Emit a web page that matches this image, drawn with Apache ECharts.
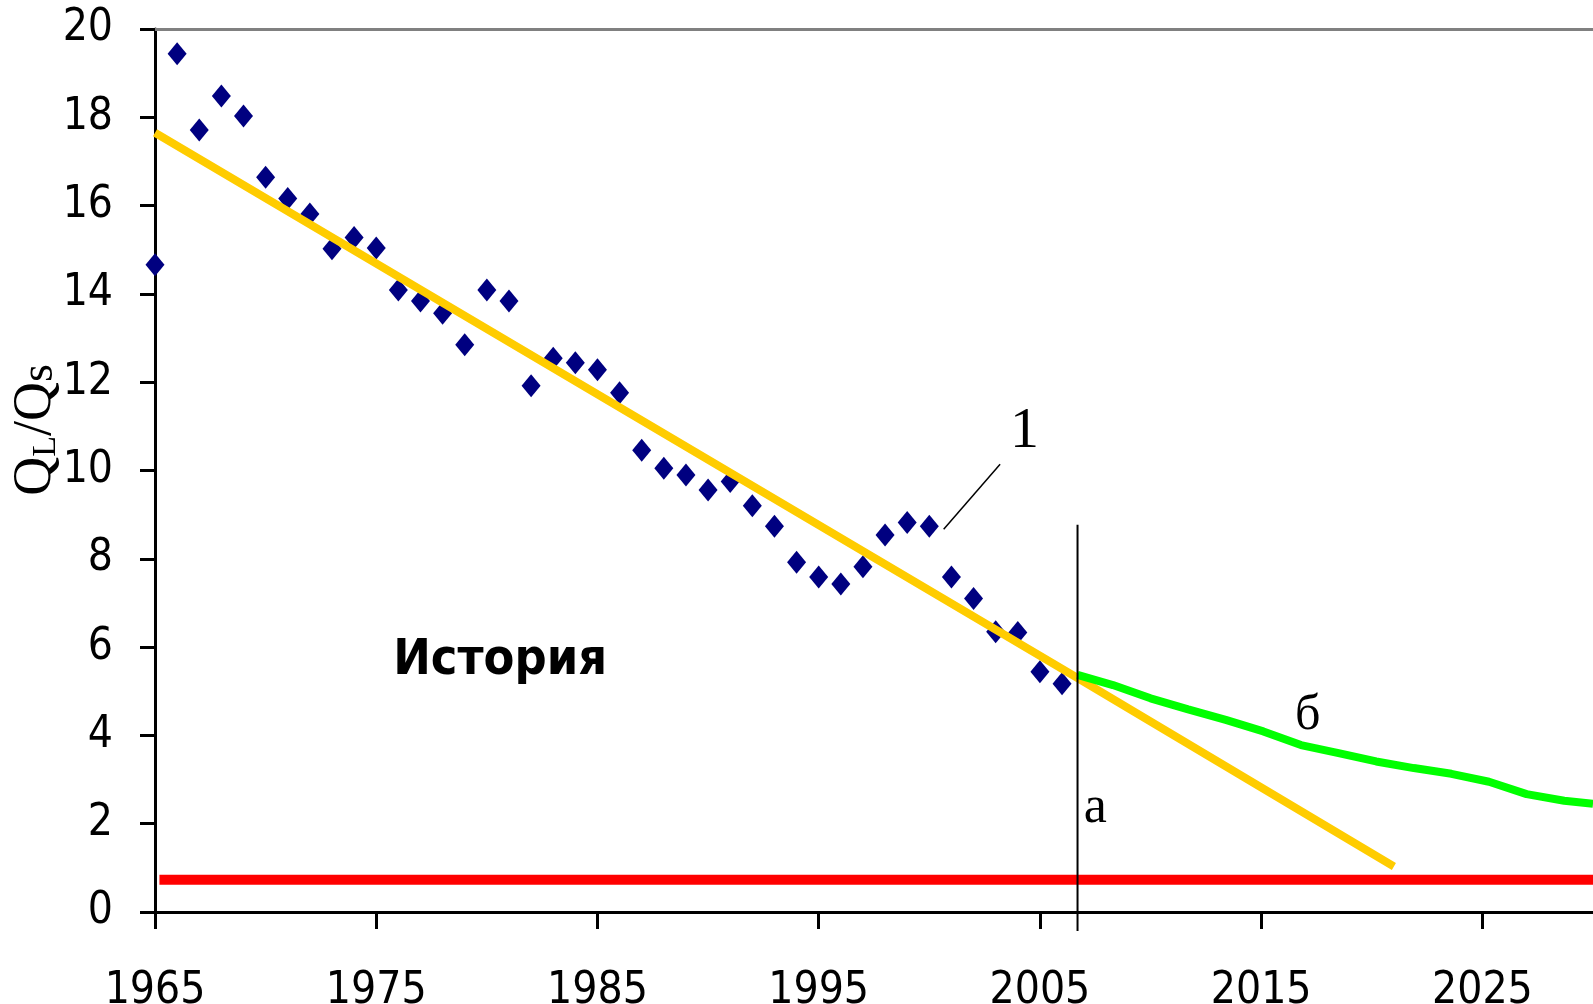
<!DOCTYPE html>
<html>
<head>
<meta charset="utf-8">
<script src="https://cdn.jsdelivr.net/npm/echarts@6/dist/echarts.min.js"></script>
<style>
    html, body { margin: 0; padding: 0; background: #fff; }
    #myChart { width: 1593px; height: 1004px; }
</style>
</head>
<body>
<div id="myChart"></div>
<script>

    // фактические точки QL/Qs
    const years = [1965, 1966, 1967, 1968, 1969, 1970, 1971, 1972, 1973, 1974,
                   1975, 1976, 1977, 1978, 1979, 1980, 1981, 1982, 1983, 1984,
                   1985, 1986, 1987, 1988, 1989, 1990, 1991, 1992, 1993, 1994,
                   1995, 1996, 1997, 1998, 1999, 2000, 2001, 2002, 2003, 2004,
                   2005, 2006]
    const ratio = [14.66, 19.44, 17.71, 18.48, 18.03, 16.64, 16.16, 15.81, 15.02, 15.28,
                   15.04, 14.09, 13.84, 13.56, 12.85, 14.09, 13.84, 11.92, 12.54, 12.44,
                   12.28, 11.76, 10.46, 10.05, 9.90, 9.56, 9.75, 9.20, 8.74, 7.92,
                   7.59, 7.43, 7.82, 8.54, 8.82, 8.74, 7.59, 7.10, 6.35, 6.33,
                   5.44, 5.17]

    // линия 1 (тренд)
    const trendYears  = [1965, 2006.7, 2021.0]
    const trendValues = [17.65, 5.30, 1.03]

    // линия б (прогноз)
    const forecastYears  = [2006.7, 2008.3, 2010.0, 2011.7, 2013.4, 2015.1, 2016.8, 2018.5,
                            2020.2, 2021.9, 2023.6, 2025.3, 2027.0, 2028.7, 2030]
    const forecastValues = [5.37, 5.14, 4.84, 4.59, 4.35, 4.09, 3.78, 3.60,
                            3.41, 3.26, 3.13, 2.95, 2.67, 2.52, 2.45]

    // нижний предел
    const limitYears  = [1965.2, 2030]
    const limitValues = [0.73, 0.73]

    // вертикаль "а"
    const splitYears  = [2006.7, 2006.7]
    const splitValues = [8.77, -0.43]

    // выноска к "1"
    const leaderYears  = [2000.65, 2003.2]
    const leaderValues = [8.67, 10.14]

    // подписи на поле графика
    const noteLabels = ['История', '1', 'а', 'б']
    const noteYears  = [1980.6, 2004.3, 2007.5, 2017.1]
    const noteValues = [5.68, 10.88, 2.34, 4.45]

    const xTicks = [1965, 1975, 1985, 1995, 2005, 2015, 2025]

    const narrow = "'DejaVu Sans Condensed', 'Liberation Sans Narrow', sans-serif"
    const serif = "'Liberation Serif', 'DejaVu Serif', serif"

    function pairs (xs, ys) {
        return xs.map((x, i) => [x, ys[i]])
    }

    const noteStyles = [
        { fontFamily: narrow, fontWeight: 'bold', fontSize: 50 },
        { fontFamily: serif, fontSize: 58 },
        { fontFamily: serif, fontSize: 52 },
        { fontFamily: serif, fontSize: 50 }
    ]

    let myChart = echarts.init(document.getElementById('myChart'))

    myChart.setOption({
        animation: false,
        backgroundColor: '#fff',
        grid: {
            left: 155,
            right: 0,
            top: 29,
            bottom: 92,
            containLabel: false,
            outerBoundsMode: 'none'
        },
        xAxis: [{
            type: 'value',
            min: 1965,
            max: 2030,
            axisLine: { lineStyle: { color: '#000', width: 3 } },
            axisTick: {
                length: 17,
                lineStyle: { color: '#000', width: 3 },
                customValues: xTicks
            },
            axisLabel: {
                customValues: xTicks,
                formatter: v => String(v),
                margin: 58,
                color: '#000',
                fontFamily: narrow,
                fontSize: 44
            },
            splitLine: { show: false }
        }, {
            type: 'value',
            position: 'top',
            min: 1965,
            max: 2030,
            axisLine: { lineStyle: { color: '#808080', width: 3 } },
            axisTick: { show: false },
            axisLabel: { show: false },
            splitLine: { show: false }
        }],
        yAxis: {
            type: 'value',
            min: 0,
            max: 20,
            interval: 2,
            axisLine: { show: true, lineStyle: { color: '#000', width: 3 } },
            axisTick: { show: true, length: 15, lineStyle: { color: '#000', width: 3 } },
            axisLabel: {
                margin: 42,
                color: '#000',
                fontFamily: narrow,
                fontSize: 44
            },
            splitLine: { show: false }
        },
        graphic: [{
            type: 'text',
            x: 36,
            y: 430,
            rotation: Math.PI / 2,
            style: {
                text: '{q|Q}{l|L}{q|/Q}{s|s}',
                align: 'center',
                verticalAlign: 'middle',
                rich: {
                    q: { fontFamily: serif, fontSize: 54, fill: '#000', verticalAlign: 'bottom' },
                    l: { fontFamily: serif, fontSize: 34, fill: '#000', verticalAlign: 'bottom' },
                    s: { fontFamily: serif, fontSize: 46, fill: '#000', verticalAlign: 'bottom' }
                }
            }
        }],
        series: [
            {
                name: 'limit',
                type: 'line',
                data: pairs(limitYears, limitValues),
                symbol: 'none',
                lineStyle: { color: '#FF0000', width: 10 },
                z: 2
            },
            {
                name: 'facts',
                type: 'scatter',
                data: pairs(years, ratio),
                symbol: 'diamond',
                symbolSize: [19, 23],
                itemStyle: { color: '#000080', opacity: 1 },
                z: 3
            },
            {
                name: 'trend',
                type: 'line',
                data: pairs(trendYears, trendValues),
                symbol: 'none',
                lineStyle: { color: '#FFCC00', width: 8 },
                z: 4
            },
            {
                name: 'forecast',
                type: 'line',
                data: pairs(forecastYears, forecastValues),
                symbol: 'none',
                lineStyle: { color: '#00FF00', width: 8 },
                z: 5
            },
            {
                name: 'split',
                type: 'line',
                data: pairs(splitYears, splitValues),
                symbol: 'none',
                clip: false,
                lineStyle: { color: '#000', width: 2 },
                z: 6
            },
            {
                name: 'leader',
                type: 'line',
                data: pairs(leaderYears, leaderValues),
                symbol: 'none',
                lineStyle: { color: '#000', width: 1.5 },
                z: 6
            },
            {
                name: 'notes',
                type: 'scatter',
                symbolSize: 0,
                silent: true,
                z: 7,
                itemStyle: { opacity: 1 },
                data: noteLabels.map((t, i) => ({
                    value: [noteYears[i], noteValues[i]],
                    name: t,
                    label: Object.assign({
                        show: true,
                        position: 'inside',
                        formatter: t,
                        color: '#000',
                        opacity: 1,
                        align: 'center',
                        verticalAlign: 'middle'
                    }, noteStyles[i])
                }))
            }
        ]
    })

</script>
</body>
</html>
